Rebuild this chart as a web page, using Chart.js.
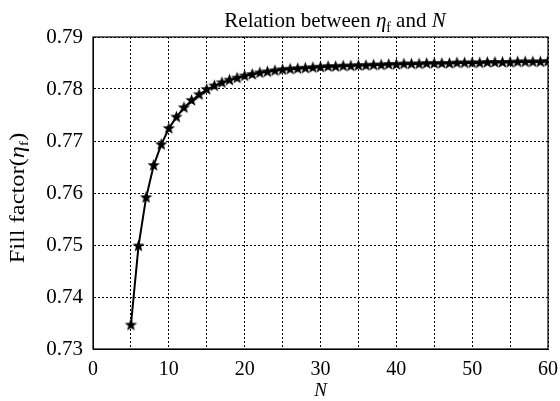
<!DOCTYPE html>
<html>
<head>
<meta charset="utf-8">
<script src="https://cdn.jsdelivr.net/npm/chart.js@4"></script>
<style>
  html, body { margin: 0; padding: 0; background: #fff; }
  #wrap { width: 560px; height: 401px; }
</style>
</head>
<body>
<div id="wrap"><canvas id="chart" width="560" height="401"></canvas></div>
<script>
// N values and the fill factor
const nValues = [5, 6, 7, 8, 9, 10, 11, 12, 13, 14, 15, 16, 17, 18, 19, 20,
  21, 22, 23, 24, 25, 26, 27, 28, 29, 30, 31, 32, 33, 34, 35, 36, 37, 38, 39, 40,
  41, 42, 43, 44, 45, 46, 47, 48, 49, 50, 51, 52, 53, 54, 55, 56, 57, 58, 59, 60]
const fillFactor = [0.7346, 0.7498, 0.7591, 0.7653, 0.7693, 0.7724, 0.7746, 0.7764,
  0.7778, 0.7789, 0.7799, 0.7806, 0.7812, 0.7817, 0.7821, 0.7825,
  0.7828, 0.7831, 0.7833, 0.7835, 0.7837, 0.7838, 0.7839, 0.7840, 0.7841, 0.7842,
  0.7843, 0.7843, 0.7844, 0.7844, 0.7845, 0.7845, 0.7846, 0.7846, 0.7847, 0.7847,
  0.7848, 0.7848, 0.7848, 0.7849, 0.7849, 0.7849, 0.7849, 0.7850, 0.7850, 0.7850,
  0.7850, 0.7851, 0.7851, 0.7851, 0.7851, 0.7852, 0.7852, 0.7852, 0.7852, 0.7853]
const xTickLabels = [0, 10, 20, 30, 40, 50, 60]
const yTickLabels = ['0.73', '0.74', '0.75', '0.76', '0.77', '0.78', '0.79']

const serif = '"Liberation Serif", "Times New Roman", serif'

// filled five-point star, like matlab's pentagram marker
function starMarker(r) {
  const c = document.createElement('canvas')
  const s = Math.ceil(r * 2 + 2)
  c.width = s; c.height = s
  const g = c.getContext('2d')
  g.beginPath()
  for (let i = 0; i < 10; i++) {
    const rad = i % 2 === 0 ? r : r * 0.42
    const a = -Math.PI / 2 + i * Math.PI / 5
    const px = s / 2 + rad * Math.cos(a), py = s / 2 + rad * Math.sin(a)
    i === 0 ? g.moveTo(px, py) : g.lineTo(px, py)
  }
  g.closePath()
  g.fillStyle = '#000'
  g.fill()
  return c
}

// text runs with italic / subscript parts
function measureRuns(ctx, runs, size) {
  let w = 0
  runs.forEach(r => {
    ctx.font = (r.italic ? 'italic ' : '') + (r.sub ? size * 0.65 : size) + 'px ' + serif
    r.w = ctx.measureText(r.t).width
    w += r.w
  })
  return w
}
function paintRuns(ctx, runs, size, x, y) {
  runs.forEach(r => {
    ctx.font = (r.italic ? 'italic ' : '') + (r.sub ? size * 0.65 : size) + 'px ' + serif
    ctx.fillText(r.t, x, r.sub ? y + size * 0.22 : y)
    x += r.w
  })
}

const decor = {
  id: 'decor',
  afterDraw(chart) {
    const ctx = chart.ctx
    const a = chart.chartArea
    ctx.save()
    ctx.strokeStyle = '#000'
    ctx.lineWidth = 1.2
    ctx.strokeRect(a.left, a.top, a.right - a.left, a.bottom - a.top)
    ctx.fillStyle = '#000'
    ctx.textBaseline = 'alphabetic'

    // title
    const title = [{t: 'Relation between '}, {t: 'η', italic: true}, {t: 'f', sub: true},
      {t: ' and '}, {t: 'N', italic: true}]
    const tw = measureRuns(ctx, title, 21)
    paintRuns(ctx, title, 21, 335 - tw / 2, 27)

    // x title
    const xt = [{t: 'N', italic: true}]
    const xw = measureRuns(ctx, xt, 19)
    paintRuns(ctx, xt, 19, (a.left + a.right) / 2 - xw / 2, 396)

    // y title
    const yt = [{t: 'Fill factor('}, {t: 'η', italic: true}, {t: 'f', sub: true}, {t: ')'}]
    const yw = measureRuns(ctx, yt, 20)
    ctx.translate(24, 198)
    ctx.rotate(-Math.PI / 2)
    ctx.scale(1.22, 1)
    paintRuns(ctx, yt, 20, -yw / 2, 0)
    ctx.restore()
  }
}

new Chart(document.getElementById('chart'), {
  type: 'line',
  data: {
    datasets: [{
      data: nValues.map((n, i) => ({x: n, y: fillFactor[i]})),
      borderColor: '#000',
      borderWidth: 2,
      pointStyle: starMarker(6.5),
      pointRadius: 6,
      tension: 0
    }]
  },
  options: {
    responsive: false,
    animation: false,
    layout: {padding: {top: 37, right: 12, left: 0, bottom: 0}},
    plugins: {legend: {display: false}, tooltip: {enabled: false}},
    scales: {
      x: {
        type: 'linear',
        min: 0, max: 60,
        afterFit: s => { s.height = 52; s.paddingLeft = 0; s.paddingRight = 0 },
        ticks: {
          stepSize: 5,
          color: '#000',
          padding: 9,
          maxRotation: 0,
          font: {family: serif, size: 20},
          callback: v => xTickLabels.includes(v) ? String(v) : ''
        },
        grid: {color: '#000', lineWidth: 1, drawTicks: false},
        border: {display: true, color: '#000', dash: [2, 2]}
      },
      y: {
        min: 0.73, max: 0.79,
        afterFit: s => { s.width = 93; s.paddingTop = 0; s.paddingBottom = 0 },
        afterBuildTicks: s => { s.ticks = yTickLabels.map(v => ({value: parseFloat(v)})) },
        ticks: {
          color: '#000',
          padding: 10,
          font: {family: serif, size: 21},
          callback: v => v.toFixed(2)
        },
        grid: {color: '#000', lineWidth: 1, drawTicks: false},
        border: {display: true, color: '#000', dash: [2, 2]}
      }
    }
  },
  plugins: [decor]
})
</script>
</body>
</html>
